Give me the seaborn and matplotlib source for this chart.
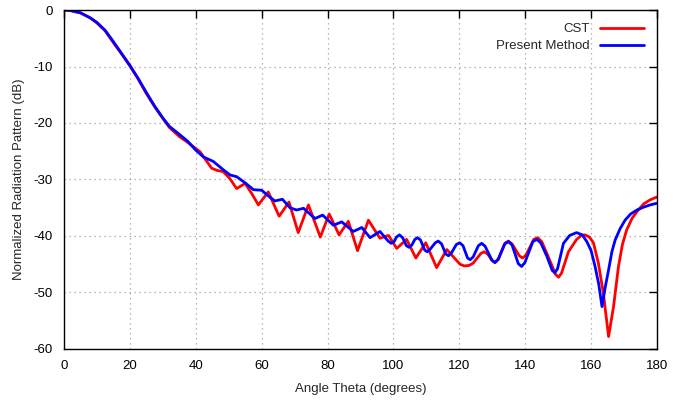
import numpy as np
import pandas as pd
import matplotlib.pyplot as plt
import seaborn as sns

# CST curve (angle in degrees, normalized pattern in dB)
cst_theta = [0, 2, 5, 8, 10, 12.5, 15, 17.5, 20, 22.5, 25, 27.5, 30, 32, 35, 37,
             39.3, 41.3, 43, 44.8, 46.5, 48.3, 50.3, 52.4, 55, 57, 59, 62, 65.3,
             68.3, 71.1, 74.2, 77.8, 80.5, 83.5, 86.3, 89.1, 92.4, 95.9, 98.5,
             101, 104, 106.8, 109.8, 113.1, 116.2, 120.2, 121.5, 123, 124.2,
             126.5, 127.5, 128.6, 129.9, 130.8, 131.8, 133.8, 134.9, 136.0,
             138.2, 139.2, 140.2, 142.6, 143.8, 145.0, 146.5, 148.5, 149.2, 150.1,
             151.0, 153.1, 155.6, 157.0, 158.2, 159.5, 160.7, 162.2, 163.7, 165.3,
             166.8, 168.3, 169.5, 170.8, 172.5, 174.3, 176, 177.9, 180]
cst_db = [0, -0.1, -0.5, -1.4, -2.3, -3.7, -5.8, -7.8, -9.9, -12.2, -14.8, -17.1,
          -19.2, -20.8, -22.4, -23.2, -24.2, -25.1, -26.5, -28.0, -28.4, -28.6,
          -29.8, -31.6, -30.7, -32.5, -34.5, -32.2, -36.5, -34.0, -39.4, -34.5,
          -40.2, -36.1, -39.8, -37.4, -42.6, -37.2, -40.4, -39.9, -42.2, -40.6,
          -43.9, -41.2, -45.6, -42.4, -45.0, -45.3, -45.2, -44.8,
          -43.1, -42.8, -43.2, -44.3, -44.7, -44.2, -41.3, -40.9, -41.4,
          -43.5, -43.9, -43.4, -40.6, -40.3, -41.0, -43.0, -45.8, -46.8, -47.3,
          -46.6, -42.8, -40.6, -39.9, -39.8, -40.2, -41.2, -44.8, -50.1, -57.8,
          -52.5, -45.4, -41.5, -38.9, -36.8, -35.4, -34.3, -33.6, -33.1]

# Present Method curve
pm_theta = [0, 2, 5, 8, 10, 12.5, 15, 17.5, 20, 22.5, 25, 27.5, 30, 32, 35, 37.5,
            40, 42.3, 45.3, 48.4, 50.4, 52.4, 55, 57.5, 60, 62, 64, 66.3, 68.6,
            70.6, 72.7, 76.2, 78.5, 81.8, 84.3, 87.8, 90.4, 92.9, 95.9, 98.4,
            99.3, 100.2, 100.9, 101.8, 102.8, 103.9, 104.7, 105.6, 106.5, 107.3,
            108.2, 109.5, 110.3, 111.2, 112.7, 113.6, 114.6, 115.9, 116.7, 117.6,
            119.1, 120.1, 121.1, 122.5, 123.3, 124.2, 125.8, 126.8, 127.8, 129.9,
            130.8, 131.8, 133.8, 134.9, 136.0, 137.9, 138.9, 139.9, 142.3, 143.5,
            144.7, 146.5, 148.2, 149, 149.8, 151.6, 153.5, 155.6, 157.3, 158.7,
            160, 161.2, 162.3, 163.3, 164.3, 165.3, 166.3, 167.3, 168.8, 170.3,
            172, 173.9, 175.9, 177.9, 180]
pm_db = [0, -0.1, -0.5, -1.4, -2.2, -3.6, -5.6, -7.7, -9.8, -12.1, -14.6, -17.0,
         -19.1, -20.6, -22.0, -23.2, -24.8, -26.0, -26.8, -28.3, -29.2, -29.5,
         -30.6, -31.8, -31.9, -32.9, -33.8, -33.5, -35.0, -35.4, -35.1, -36.9,
         -36.3, -38.1, -37.5, -39.2, -38.5, -40.3, -39.2, -40.9,
         -41.3, -41.0, -40.2, -39.8, -40.3, -41.7, -42.0, -41.6, -40.6, -40.3,
         -40.7, -42.5, -42.8, -42.3, -41.2, -40.9, -41.4, -43.2, -43.5, -43.0,
         -41.5, -41.2, -41.7, -43.9, -44.2, -43.7, -41.7, -41.3, -41.8, -44.3,
         -44.7, -44.1, -41.4, -41.0, -41.6, -44.9, -45.4, -44.7, -41.0, -40.6,
         -41.2, -43.5, -46.1, -46.5, -45.8, -41.3, -39.9, -39.4, -39.8, -41.0,
         -42.6, -45.4, -48.5, -52.5, -49.0, -46.0, -42.8, -40.7, -38.7, -37.2,
         -36.1, -35.4, -34.9, -34.5, -34.2]

df_cst = pd.DataFrame({"theta": cst_theta, "db": cst_db})
df_pm = pd.DataFrame({"theta": pm_theta, "db": pm_db})

sns.set_style("white")
plt.rcParams["font.family"] = ["Liberation Sans", "DejaVu Sans"]
plt.rcParams["axes.unicode_minus"] = False

fig = plt.figure(figsize=(7, 4.05), dpi=100)
ax = fig.add_axes([0.0914, 0.1383, 0.8472, 0.837])

sns.lineplot(data=df_cst, x="theta", y="db", color="#ff0000", linewidth=2.0,
             label="CST", ax=ax, sort=False)
sns.lineplot(data=df_pm, x="theta", y="db", color="#0000ff", linewidth=2.0,
             label="Present Method", ax=ax, sort=False)

ax.set_xlim(0, 180)
ax.set_ylim(-60, 0)
ax.set_xticks(np.arange(0, 181, 20))
ax.set_yticks(np.arange(-60, 1, 10))
ax.grid(True, color="#a0a0a0", linestyle=(0, (1, 3)), linewidth=0.9)
for s in ax.spines.values():
    s.set_visible(True)
    s.set_color("black")
    s.set_linewidth(1.0)
ax.tick_params(axis="both", direction="in", length=6, width=1, top=True,
               right=True, labelsize=9.5, colors="black", pad=8)
ax.set_xlabel("Angle Theta (degrees)", fontsize=9.5, labelpad=8)
ax.set_ylabel("Normalized Radiation Pattern (dB)", fontsize=9.5, labelpad=6)

ax.legend(loc="upper right", frameon=False, markerfirst=False, fontsize=9.5,
          handlelength=3.3, borderaxespad=0.6, labelspacing=0.35)

plt.savefig("out.png", dpi=100)
